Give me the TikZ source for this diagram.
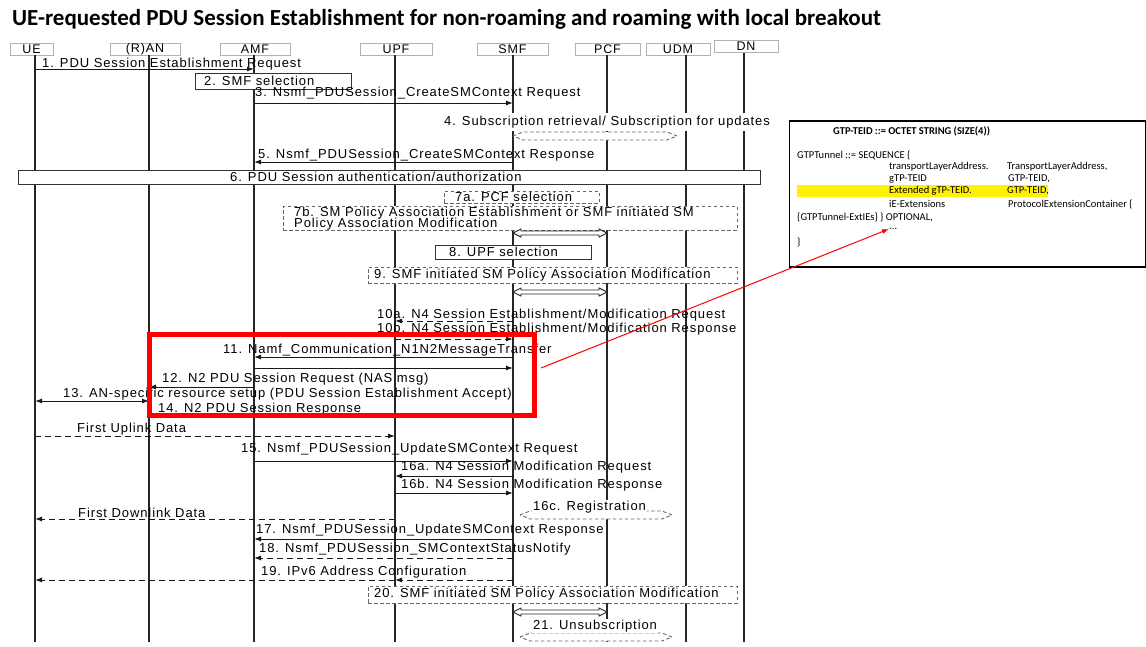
\documentclass[tikz,border=0pt]{standalone}
\usepackage{fontspec}
\setmainfont{Liberation Sans}
\newfontfamily\msgfont[LetterSpace=7]{Liberation Sans}
\newfontfamily\calfont{Carlito}
\usetikzlibrary{arrows.meta,calc}
\begin{document}
\begin{tikzpicture}[x=1pt,y=-1pt,
  lbl/.style={anchor=west,inner sep=0pt,font=\msgfont\fontsize{13}{13}\selectfont},
  wlbl/.style={lbl,fill=white,inner ysep=3pt,inner xsep=1pt},
  hdr/.style={draw=black!30,line width=0.9pt,minimum height=12pt,inner sep=0pt,font=\msgfont\fontsize{12.5}{12}\selectfont},
  life/.style={draw=black!85,line width=1.3pt},
  msg/.style={draw=black!90,line width=1pt,-{Latex[length=7pt,width=5pt]}},
  dmsg/.style={msg,dash pattern=on 6pt off 4pt},
  sbox/.style={draw=black!80,line width=1pt,fill=white},
  dbox/.style={draw=black!60,line width=0.9pt,dash pattern=on 3.5pt off 2.5pt,fill=white},
  harrow/.style={draw=black!85,line width=0.9pt,fill=white},
  bracket/.style={draw=black!60,line width=0.9pt,dash pattern=on 3.5pt off 2.5pt,fill=white},
  code/.style={anchor=west,inner sep=0pt,font=\calfont\fontsize{10.5}{12}\selectfont},
]
\fill[white] (0,0) rectangle (1146,646);
\useasboundingbox (0,0) rectangle (1146,646);

% title
\node[anchor=west,inner sep=0pt,font=\calfont\bfseries\fontsize{23}{26}\selectfont] (title) at (12,19)
  {UE-requested PDU Session Establishment for non-roaming and roaming with local breakout};

% headers
\node[hdr,minimum width=43pt] (ueh)  at (31.5,49) {UE};
\node[hdr,minimum width=70pt] (ranh) at (145,49) {(R)AN};
\node[hdr,minimum width=70pt] (amfh) at (255,49) {AMF};
\node[hdr,minimum width=72pt] (upfh) at (396,49) {UPF};
\node[hdr,minimum width=71pt] (smfh) at (512.5,49) {SMF};
\node[hdr,minimum width=65pt] (pcfh) at (607.5,49) {PCF};
\node[hdr,minimum width=64pt] (udmh) at (678,49) {UDM};
\node[hdr,minimum width=64pt] (dnh)  at (746,46.5) {DN};

% lifelines
\coordinate (ue) at (35,55);   \coordinate (ue-end) at (35,642);
\coordinate (ran) at (149,55); \coordinate (ran-end) at (149,642);
\coordinate (amf) at (254,55); \coordinate (amf-end) at (254,642);
\coordinate (upf) at (395,55); \coordinate (upf-end) at (395,642);
\coordinate (smf) at (513,55); \coordinate (smf-end) at (513,642);
\coordinate (pcf) at (607,55); \coordinate (pcf-end) at (607,642);
\coordinate (udm) at (686,55); \coordinate (udm-end) at (686,642);
\coordinate (dn) at (744,53);  \coordinate (dn-end) at (744,642);
\foreach \n in {ue,ran,amf,upf,smf,pcf,udm,dn} { \draw[life] (\n) -- (\n-end); }

% 1
\node[lbl] (l1) at (42,64) {1. PDU Session Establishment Request};
\draw[msg] (ue |- 0,69) -- (amf |- 0,69);
% 2
\node[sbox,minimum width=156pt,minimum height=16pt,inner sep=0pt] (b2) at (273,81) {};
\node[lbl] (l2) at (204,81) {2. SMF selection};
% 3
\node[lbl] (l3) at (255,93) {3. Nsmf\_PDUSession\_CreateSMContext Request};
\draw[msg] (amf |- 0,103) -- (smf |- 0,103);
% 4
\node[wlbl] (l4) at (443,122) {4. Subscription retrieval/ Subscription for updates};
\draw[bracket] (smf |- 0,136) -- ++(10,-4) -- ++(144,0) -- ++(10,4) -- ++(-10,4) -- ++(-144,0) -- cycle;
% 5
\node[lbl] (l5) at (258,155) {5. Nsmf\_PDUSession\_CreateSMContext Response};
\draw[msg] (smf |- 0,162) -- (amf |- 0,162);
% 6
\node[sbox,minimum width=742pt,minimum height=14pt,inner sep=0pt] (b6) at (389,177) {};
\node[lbl] (l6) at (230,177) {6. PDU Session authentication/authorization};
% 7a
\node[dbox,minimum width=155pt,minimum height=12pt,inner sep=0pt] (b7a) at (521.5,197) {};
\node[lbl] (l7a) at (455,197) {7a. PCF selection};
% 7b
\node[dbox,minimum width=454pt,minimum height=24pt,inner sep=0pt] (b7b) at (510,218) {};
\node[lbl] (l7b1) at (294,213) {7b. SM Policy Association Establishment or SMF initiated SM};
\node[lbl] (l7b2) at (294,224) {Policy Association Modification};
\draw[harrow] (smf |- 0,233) -- ++(8,-4) -- ++(0,2) -- ++(78,0) -- ++(0,-2) -- ++(8,4) -- ++(-8,4) -- ++(0,-2) -- ++(-78,0) -- ++(0,2) -- cycle;
% 8
\node[sbox,minimum width=156pt,minimum height=14pt,inner sep=0pt] (b8) at (513,252) {};
\node[lbl] (l8) at (449,252) {8. UPF selection};
% 9
\node[dbox,minimum width=369pt,minimum height=16pt,inner sep=0pt] (b9) at (552.5,275) {};
\node[lbl] (l9) at (374,275) {9. SMF initiated SM Policy Association Modification};
\draw[harrow] (smf |- 0,292) -- ++(8,-4) -- ++(0,2) -- ++(78,0) -- ++(0,-2) -- ++(8,4) -- ++(-8,4) -- ++(0,-2) -- ++(-78,0) -- ++(0,2) -- cycle;
% 10a / 10b
\node[lbl] (l10a) at (377,315) {10a. N4 Session Establishment/Modification Request};
\draw[dmsg] (smf |- 0,321) -- (upf |- 0,321);
\node[lbl] (l10b) at (377,329) {10b. N4 Session Establishment/Modification Response};
\draw[dmsg] (upf |- 0,339) -- (smf |- 0,339);
% 11
\node[lbl] (l11) at (223,350) {11. Namf\_Communication\_N1N2MessageTransfer};
\draw[msg] (smf |- 0,357) -- (amf |- 0,357);
\draw[msg] (amf |- 0,368) -- (smf |- 0,368);
% 12
\node[lbl] (l12) at (162,379) {12. N2 PDU Session Request (NAS msg)};
\draw[msg] (amf |- 0,387) -- (ran |- 0,387);
% 13
\node[lbl] (l13) at (63,394) {13. AN-specific resource setup (PDU Session Establishment Accept)};
\draw[msg,{Latex[length=7pt,width=5pt]}-{Latex[length=7pt,width=5pt]}] (ran |- 0,401) -- (ue |- 0,401);
% 14
\node[lbl] (l14) at (158,409) {14. N2 PDU Session Response};
% first uplink
\node[lbl] (lul) at (77,429) {First Uplink Data};
\draw[dmsg] (ue |- 0,436) -- (upf |- 0,436);
% 15
\node[lbl] (l15) at (241,449) {15. Nsmf\_PDUSession\_UpdateSMContext Request};
\draw[msg] (amf |- 0,461) -- (smf |- 0,461);
% 16a 16b
\node[lbl] (l16a) at (401,467) {16a. N4 Session Modification Request};
\draw[msg] (smf |- 0,476) -- (upf |- 0,476);
\node[lbl] (l16b) at (401,485) {16b. N4 Session Modification Response};
\draw[msg] (upf |- 0,493) -- (smf |- 0,493);
% 16c
\draw[bracket] (520,515) -- ++(10,-4) -- ++(132,0) -- ++(10,4) -- ++(-10,4) -- ++(-132,0) -- cycle;
\node[wlbl,inner ysep=1pt] (l16c) at (532,507) {16c. Registration};
% first downlink
\node[lbl] (ldl) at (78,513) {First Downlink Data};
\draw[dmsg] (upf |- 0,519) -- (ue |- 0,519);
% 17
\node[lbl] (l17) at (256,530) {17. Nsmf\_PDUSession\_UpdateSMContext Response};
\draw[msg] (smf |- 0,539) -- (amf |- 0,539);
% 18
\node[lbl] (l18) at (259,549) {18. Nsmf\_PDUSession\_SMContextStatusNotify};
\draw[dmsg] (smf |- 0,558) -- (amf |- 0,558);
% 19
\node[lbl] (l19) at (261,572) {19. IPv6 Address Configuration};
\draw[dmsg] (smf |- 0,580) -- (upf |- 0,580);
\draw[dmsg] (upf |- 0,580) -- (ue |- 0,580);
% 20
\node[dbox,minimum width=369pt,minimum height=17pt,inner sep=0pt] (b20) at (552.5,594.5) {};
\node[lbl] (l20) at (374,594) {20. SMF initiated SM Policy Association Modification};
\draw[harrow] (smf |- 0,612) -- ++(8,-4) -- ++(0,2) -- ++(78,0) -- ++(0,-2) -- ++(8,4) -- ++(-8,4) -- ++(0,-2) -- ++(-78,0) -- ++(0,2) -- cycle;
% 21
\draw[bracket] (520,637) -- ++(10,-4) -- ++(132,0) -- ++(10,4) -- ++(-10,4) -- ++(-132,0) -- cycle;
\node[wlbl,inner ysep=1pt] (l21) at (532,626) {21. Unsubscription};

% red highlight box
\node[draw=red,line width=5pt,minimum width=385pt,minimum height=81pt,inner sep=0pt] (redbox) at (342,375) {};

% right code box
\node[draw=black,line width=1.5pt,minimum width=356pt,minimum height=146pt,inner sep=0pt] (codebox) at (967.5,194) {};
\fill[yellow] (797,185) rectangle (1048,197);
\node[code,font=\calfont\bfseries\fontsize{10.5}{12}\selectfont] (c0) at (833,131) {GTP-TEID ::= OCTET STRING (SIZE(4))};
\node[code] (c1) at (797,155) {GTPTunnel ::= SEQUENCE \{};
\node[code] (c2a) at (889,167) {transportLayerAddress.};
\node[code] (c2b) at (1007,167) {TransportLayerAddress,};
\node[code] (c3a) at (889,179) {gTP-TEID};
\node[code] (c3b) at (1008,179) {GTP-TEID,};
\node[code] (c4a) at (889,191) {Extended gTP-TEID.};
\node[code] (c4b) at (1007,191) {GTP-TEID,};
\node[code] (c5a) at (889,204) {iE-Extensions};
\node[code] (c5b) at (1008,204) {ProtocolExtensionContainer \{};
\node[code] (c6) at (797,217) {\{GTPTunnel-ExtIEs\} \} OPTIONAL,};
\node[code] (c7) at (889,229) {...};
\node[code] (c8) at (797,242) {\}};

% red pointer
\coordinate (ptr-start) at (541,368);
\draw[red,line width=1pt,-{Latex[length=7pt,width=5pt]}] (ptr-start) -- (c7.west);
\end{tikzpicture}
\end{document}
